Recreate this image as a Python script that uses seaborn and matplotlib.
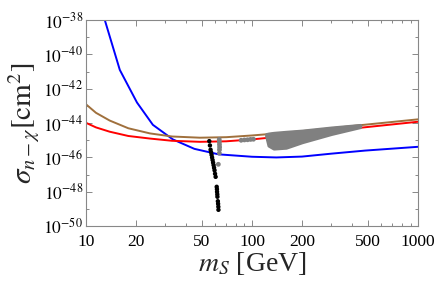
import numpy as np
import pandas as pd
import matplotlib
matplotlib.use("Agg")
import matplotlib.pyplot as plt
import matplotlib.ticker as mticker
import seaborn as sns

# curves: mass [GeV] and log10(sigma / cm^2)
blue_m = [13.0, 16.0, 20.3, 25.3, 33.4, 45, 63, 100, 140, 200, 300, 480, 1000]
blue_s = [-38.0, -40.9, -42.8, -44.1, -44.95, -45.5, -45.82, -45.96, -46.0, -45.95, -45.78, -45.6, -45.38]

red_m = [10, 11.5, 13.9, 18, 24.3, 33, 48.6, 70, 100, 150, 250, 450, 1000]
red_s = [-43.98, -44.25, -44.5, -44.75, -44.9, -45.03, -45.09, -45.06, -44.95, -44.78, -44.55, -44.27, -43.92]

brown_m = [10, 11.5, 13.9, 18, 24.3, 33, 48.6, 70, 100, 150, 250, 450, 1000]
brown_s = [-42.9, -43.4, -43.85, -44.3, -44.6, -44.78, -44.85, -44.82, -44.72, -44.58, -44.38, -44.12, -43.78]

# black scan points
black_m = [55.3, 55.8, 56.3, 56.7, 57.1, 57.5, 57.9, 58.3, 58.7, 59.1, 59.5, 59.9, 60.4,
           61.3, 61.5, 61.6, 61.8, 61.9, 62.3, 62.5, 62.7, 62.8]
black_s = [-45.05, -45.3, -45.55, -45.7, -45.85, -46.0, -46.15, -46.3, -46.45, -46.6, -46.75, -46.95, -47.13,
           -47.71, -47.85, -48.0, -48.15, -48.29, -48.55, -48.7, -48.87, -49.05]

# grey scan points
grey_m = [63.5, 63.6, 63.7, 63.8, 63.7, 63.6, 62.7, 86, 90, 94, 98, 102]
grey_s = [-44.95, -45.1, -45.25, -45.4, -45.55, -45.75, -46.4, -45.0, -44.98, -44.97, -44.95, -44.94]

# grey band (dense region of scan points)
band_m = [122, 126, 135, 160, 200, 300, 447]
band_hi = [-44.65, -44.62, -44.58, -44.52, -44.45, -44.27, -44.12]
band_lo = [-44.75, -45.3, -45.47, -45.42, -45.1, -44.62, -44.22]

sns.set_style("ticks")
plt.rcParams['font.family'] = ['Liberation Serif', 'DejaVu Serif']
plt.rcParams['mathtext.fontset'] = 'stix'

fig = plt.figure(figsize=(4.36, 2.83), dpi=100)
ax = fig.add_axes([0.197, 0.201, 0.762, 0.728])

curves = pd.concat([
    pd.DataFrame({'m': blue_m, 'sigma': 10.0 ** np.array(blue_s), 'set': 'blue'}),
    pd.DataFrame({'m': red_m, 'sigma': 10.0 ** np.array(red_s), 'set': 'red'}),
    pd.DataFrame({'m': brown_m, 'sigma': 10.0 ** np.array(brown_s), 'set': 'brown'}),
])
palette = {'blue': '#0000ff', 'red': '#ff0000', 'brown': '#a0703c'}

ax.fill_between(band_m, 10.0 ** np.array(band_lo), 10.0 ** np.array(band_hi),
                color='#808080', lw=2.5, edgecolor='#808080', zorder=3)
sns.scatterplot(x=grey_m, y=10.0 ** np.array(grey_s), color='#808080', s=12,
                edgecolor='none', ax=ax, zorder=3)
sns.lineplot(data=curves, x='m', y='sigma', hue='set', palette=palette, sort=False,
             estimator=None, lw=1.4, legend=False, ax=ax, zorder=2)
sns.scatterplot(x=black_m, y=10.0 ** np.array(black_s), color='black', s=10,
                edgecolor='none', ax=ax, zorder=4)

ax.set_xscale('log')
ax.set_yscale('log')
ax.set_xlim(10, 1000)
ax.set_ylim(1e-50, 1e-38)

ax.xaxis.set_major_locator(mticker.FixedLocator([10, 20, 50, 100, 200, 500, 1000]))
ax.xaxis.set_major_formatter(mticker.FixedFormatter(['10', '20', '50', '100', '200', '500', '1000']))
ax.xaxis.set_minor_locator(mticker.FixedLocator([30, 40, 60, 70, 80, 90, 300, 400, 600, 700, 800, 900]))
ax.xaxis.set_minor_formatter(mticker.NullFormatter())

yt = [10.0 ** e for e in range(-50, -37, 2)]
ax.yaxis.set_major_locator(mticker.FixedLocator(yt))
ax.yaxis.set_major_formatter(mticker.FixedFormatter(['$10^{%d}$' % e for e in range(-50, -37, 2)]))
ax.yaxis.set_minor_locator(mticker.FixedLocator([10.0 ** e for e in range(-49, -38, 2)]))
ax.yaxis.set_minor_formatter(mticker.NullFormatter())

for sp in ax.spines.values():
    sp.set_visible(True)
    sp.set_color('#888888')
    sp.set_linewidth(0.8)
ax.tick_params(which='both', direction='in', top=True, right=True, color='#888888',
               labelsize=12.5, labelcolor='black', width=0.7)
ax.tick_params(axis='x', which='major', length=4, pad=6)
ax.tick_params(axis='y', which='major', length=4, pad=2)
ax.tick_params(which='minor', length=2)
for lab in ax.get_yticklabels():
    lab.set_va('center_baseline')

ax.set_xlabel('$m_S$ [GeV]', fontsize=20, labelpad=0)
ax.set_ylabel(r'$\sigma_{n-\chi}[\mathrm{cm}^2]$', fontsize=21, labelpad=1)

fig.savefig('out.png', dpi=100)
